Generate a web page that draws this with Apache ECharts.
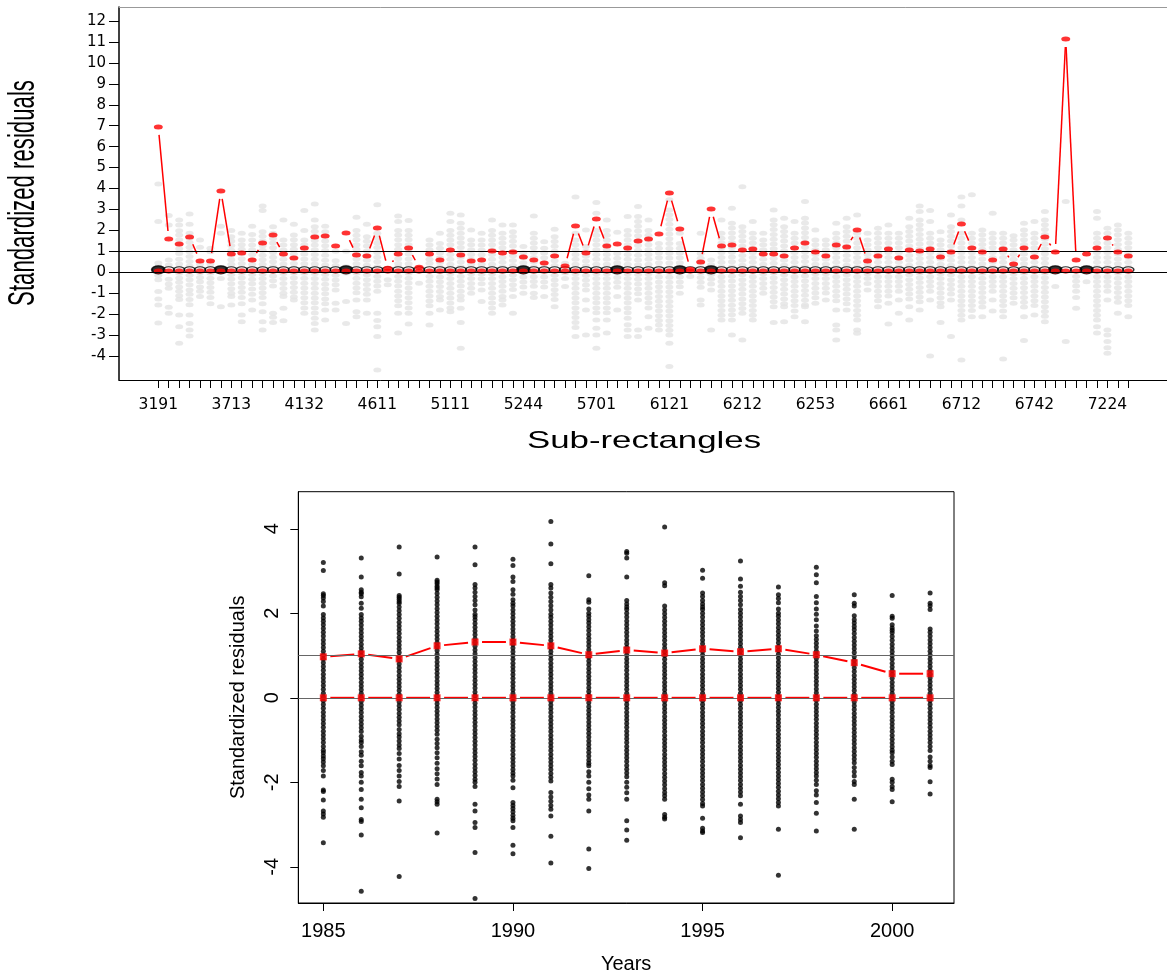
<!DOCTYPE html>
<html><head><meta charset="utf-8">
<script src="https://cdn.jsdelivr.net/npm/echarts@6/dist/echarts.min.js"></script>
<style>html,body{margin:0;padding:0;background:#fff}#c{width:1167px;height:975px}</style>
</head><body><div id="c"></div>
<script>
// ---------- top panel data ----------
const subRectLabels = ['3191','3713','4132','4611','5111','5244','5701','6121','6212','6253','6661','6712','6742','7224'];
const labelStep = 7;
const nSubRects = 94;
const topYTicks = [-4,-3,-2,-1,0,1,2,3,4,5,6,7,8,9,10,11,12];
const upperRed = [6.94,1.59,1.35,1.69,0.54,0.54,3.88,0.87,0.92,0.59,1.40,1.78,0.87,0.68,1.16,1.69,1.73,1.26,1.88,0.83,
  0.78,2.12,0.19,0.87,1.16,0.24,0.87,0.59,1.06,0.83,0.54,0.59,1.02,0.92,0.97,0.73,0.59,0.44,0.78,0.30,
  2.21,0.92,2.55,1.26,1.35,1.16,1.49,1.59,1.83,3.79,2.07,0.14,0.49,3.02,1.26,1.30,1.06,1.11,0.87,0.87,
  0.78,1.16,1.40,0.97,0.78,1.30,1.21,2.02,0.54,0.78,1.11,0.68,1.06,1.02,1.11,0.73,0.97,2.31,1.16,0.97,
  0.59,1.11,0.40,1.16,0.73,1.69,0.97,11.14,0.59,0.87,1.16,1.64,0.97,0.78];
const zeroRed = [0.06,0.06,0.06,0.06,0.06,0.06,0.06,0.06,0.06,0.06,0.06,0.06,0.06,0.06,0.06,0.06,0.06,0.06,0.06,0.06,
  0.06,0.06,0.06,0.06,0.06,0.06,0.06,0.06,0.06,0.06,0.06,0.06,0.06,0.06,0.06,0.06,0.06,0.06,0.06,0.06,
  0.06,0.06,0.06,0.06,0.06,0.06,0.06,0.06,0.06,0.06,0.06,0.06,0.06,0.06,0.06,0.06,0.06,0.06,0.06,0.06,
  0.06,0.06,0.06,0.06,0.06,0.06,0.06,0.06,0.06,0.06,0.06,0.06,0.06,0.06,0.06,0.06,0.06,0.06,0.06,0.06,
  0.06,0.06,0.06,0.06,0.06,0.06,0.06,0.06,0.06,0.06,0.06,0.06,0.06,0.06];
const meanCircle = [0.12,0.12,0.12,0.12,0.12,0.12,0.12,0.12,0.12,0.12,0.12,0.12,0.12,0.12,0.12,0.12,0.12,0.12,0.12,0.12,
  0.12,0.12,0.12,0.12,0.12,0.12,0.12,0.12,0.12,0.12,0.12,0.12,0.12,0.12,0.12,0.12,0.12,0.12,0.12,0.12,
  0.12,0.12,0.12,0.12,0.12,0.12,0.12,0.12,0.12,0.12,0.12,0.12,0.12,0.12,0.12,0.12,0.12,0.12,0.12,0.12,
  0.12,0.12,0.12,0.12,0.12,0.12,0.12,0.12,0.12,0.12,0.12,0.12,0.12,0.12,0.12,0.12,0.12,0.12,0.12,0.12,
  0.12,0.12,0.12,0.12,0.12,0.12,0.12,0.12,0.12,0.12,0.12,0.12,0.12,0.12];
const boldCircleIdx = [0,6,18,35,44,50,53,86,89];
const grayCols = [
 [4.22,2.42,0.45,0.25,-0.15,-0.35,-0.92,-1.27,-1.56,-2.42],
 [2.71,2.26,0.59,0.35,-0.33,-0.56,-0.76,-1.67,-1.96],
 [2.5,2.26,1.98,1.78,1.55,1.33,1.12,0.9,0.62,0.4,0.18,-0.05,-0.27,-0.48,-0.7,-0.9,-1.12,-1.3,-2.04,-2.6,-3.39],
 [2.79,2.3,1.86,1.63,1.42,1.2,0.98,0.75,0.52,0.3,0.1,-0.14,-0.36,-0.6,-0.84,-1.05,-1.3,-1.55,-2.04,-2.44,-2.75,-3.04],
 [1.54,1.2,0.4,0.2,-0.02,-0.25,-0.45,-0.7,-0.9,-1.16],
 [1.15,0.98,0.4,0.18,-0.05,-0.28,-0.5,-0.72,-0.95,-1.2,-1.5],
 [2.2,1.86,-0.3,-1.64],
 [2.0,1.7,1.5,1.28,1.05,0.82,0.6,0.38,0.15,-0.1,-0.32,-0.55,-0.78,-1.0,-1.16,-1.56],
 [1.86,1.54,1.32,1.1,0.88,0.65,0.42,0.2,-0.04,-0.26,-0.5,-0.73,-0.95,-1.2,-1.5,-2.04,-2.36],
 [2.2,1.8,1.54,1.3,1.08,0.85,0.6,0.38,0.15,-0.1,-0.33,-0.55,-0.8,-1.05,-1.32,-1.8],
 [3.17,2.95,1.94,1.72,1.5,1.27,1.05,0.82,0.6,0.38,0.15,-0.08,-0.3,-0.52,-0.75,-0.98,-1.2,-1.5,-1.88,-2.36,-2.75],
 [2.18,1.86,1.62,1.4,1.17,0.95,0.72,0.5,0.28,0.05,-0.18,-0.4,-0.65,-1.96,-2.15,-2.4],
 [2.5,1.54,1.3,1.07,0.85,0.62,0.4,0.17,-0.06,-0.3,-0.53,-0.77,-1.0,-1.16,-1.72,-2.31],
 [2.3,1.78,1.55,1.32,1.1,0.87,0.65,0.42,0.2,-0.03,-0.26,-0.5,-0.72,-0.95,-1.18,-1.32],
 [2.95,2.0,1.54,1.32,1.1,0.87,0.64,0.41,0.18,-0.05,-0.28,-0.52,-0.75,-0.98,-1.22,-1.45,-1.7,-1.96],
 [3.26,2.5,2.18,1.96,1.74,1.52,1.3,1.08,0.85,0.62,0.4,0.17,-0.06,-0.3,-0.53,-0.76,-1.0,-1.23,-1.46,-1.7,-1.94,-2.2,-2.45,-2.75],
 [2.2,1.94,1.72,1.5,1.27,1.04,0.81,0.58,0.35,0.12,-0.1,-0.33,-0.57,-0.8,-1.03,-1.27,-1.5,-1.8,-2.28],
 [1.0,0.55,0.32,0.1,-0.14,-0.37,-0.6,-0.84,-1.48,-1.8],
 [1.0,0.27,-0.03,-1.4,-2.44],
 [2.63,2.0,1.77,1.55,1.32,1.1,0.87,0.64,0.41,0.18,-0.05,-0.28,-0.52,-0.75,-0.98,-1.32,-1.88,-2.12],
 [2.3,1.7,1.48,1.25,1.02,0.8,0.57,0.34,0.11,-0.12,-0.35,-0.58,-0.82,-1.05,-1.32,-1.96],
 [3.22,1.86,1.63,1.4,1.18,0.95,0.72,0.5,0.27,0.04,-0.2,-0.43,-0.66,-0.9,-1.96,-2.3,-2.6,-3.07,-4.67],
 [-0.35,-0.6],
 [2.69,2.42,2.0,1.78,1.55,1.32,1.1,0.87,0.65,0.42,0.27,-0.2,-0.43,-0.66,-0.9,-1.13,-1.36,-1.6,-1.96,-2.9],
 [2.47,2.0,1.77,1.55,1.32,1.1,0.87,0.64,0.41,0.18,-0.05,-0.28,-0.51,-0.75,-0.98,-1.21,-1.45,-1.7,-1.96,-2.47],
 [-0.52],
 [1.54,1.3,1.08,0.85,0.62,0.43,-0.2,-0.43,-0.67,-0.9,-1.13,-1.37,-1.6,-1.96,-2.52],
 [1.86,1.38,1.15,0.92,0.7,0.47,0.24,0.01,-0.22,-0.45,-0.68,-0.92,-1.15,-1.32,-1.8],
 [2.82,2.42,2.0,1.77,1.54,1.31,1.08,0.85,0.62,0.39,0.16,-0.07,-0.3,-0.53,-0.76,-1.0,-1.23,-1.47,-1.7,-1.88],
 [2.74,2.34,2.1,1.87,1.64,1.41,1.18,0.95,0.72,0.49,0.26,0.03,-0.2,-0.43,-0.66,-0.9,-1.13,-1.32,-1.72,-2.4,-3.63],
 [2.02,1.54,1.31,1.08,0.85,0.62,0.39,0.16,-0.07,-0.3,-0.53,-0.76,-1.0],
 [1.86,1.54,1.3,1.07,0.84,0.61,0.38,0.15,-0.08,-0.31,-0.55,-0.84,-1.4],
 [2.5,2.0,1.77,1.54,1.31,1.08,0.85,0.62,0.39,0.16,-0.07,-0.3,-0.53,-0.76,-1.0,-1.23,-1.47,-1.7,-1.96],
 [2.26,1.86,1.63,1.4,1.17,0.94,0.71,0.48,0.25,0.02,-0.21,-0.44,-0.67,-0.9,-1.16,-1.32,-1.56],
 [2.26,1.94,1.71,1.48,1.25,1.02,0.79,0.56,0.33,0.1,-0.13,-0.36,-0.59,-0.82,-1.16,-1.96],
 [1.23,0.92,0.69,0.46,0.23,0.0,-0.23,-0.46,-0.7,-1.0],
 [2.69,1.86,1.63,1.4,1.17,0.94,0.71,0.48,0.25,0.02,-0.21,-0.44,-0.67,-1.0,-1.2],
 [1.46,1.15,0.92,0.69,0.46,0.23,0.0,-0.23,-0.46,-0.7,-1.16],
 [2.05,1.7,1.47,1.24,1.01,0.78,0.55,0.32,0.09,-0.14,-0.37,-0.6,-0.83,-1.06,-1.3,-1.64],
 [0.43,0.2,-0.03,-0.3,-0.68],
 [3.6,1.86,1.54,1.31,1.08,0.85,0.62,0.39,0.16,-0.07,-0.3,-0.53,-0.76,-1.0,-1.23,-1.46,-1.7,-1.93,-2.16,-2.4,-2.63,-3.07],
 [2.02,1.23,1.0,0.77,0.54,0.31,0.08,-0.15,-0.38,-0.61,-0.84,-1.32,-1.8,-3.0],
 [3.33,2.82,2.0,1.77,1.54,1.31,1.08,0.85,0.62,0.39,0.16,-0.07,-0.3,-0.53,-0.76,-1.0,-1.23,-1.46,-1.7,-1.93,-2.28,-2.67,-3.0,-3.63],
 [2.5,2.0,1.77,1.54,1.31,1.08,0.85,0.62,0.39,0.16,-0.07,-0.3,-0.53,-0.76,-1.0,-1.23,-1.46,-1.7,-1.93,-2.28,-2.9],
 [1.91,0.9,0.67,0.44,0.21,-0.02,-0.25,-0.48,-0.71,-1.16,-1.8],
 [2.66,2.0,1.77,1.54,1.31,1.08,0.85,0.62,0.39,0.16,-0.07,-0.3,-0.53,-0.76,-1.0,-1.23,-1.46,-1.7,-1.93,-2.2,-2.5,-2.75,-3.07],
 [3.14,2.66,2.43,2.2,1.97,1.74,1.51,1.28,1.05,0.82,0.59,0.36,0.13,-0.1,-0.33,-0.56,-0.8,-1.03,-1.32,-2.75,-3.07],
 [2.5,2.0,1.77,1.54,1.31,1.08,0.85,0.62,0.39,0.16,-0.07,-0.3,-0.53,-0.76,-1.0,-1.23,-1.46,-1.7,-2.12,-2.67],
 [1.38,1.15,0.92,0.69,0.46,0.23,0.0,-0.23,-0.46,-0.69,-0.92,-1.15,-1.38,-1.61,-1.84,-2.07,-2.3,-2.52,-2.75],
 [3.46,2.98,2.75,2.52,2.29,2.06,1.83,1.6,1.37,1.14,0.91,0.68,0.45,0.22,-0.01,-0.24,-0.47,-0.7,-0.93,-1.16,-1.39,-1.62,-1.85,-2.08,-2.31,-2.54,-2.77,-3.0,-3.39,-4.5],
 [1.86,1.38,1.15,0.92,0.69,0.46,0.23,0.0,-0.23,-0.46,-0.69,-1.0],
 [-0.2],
 [1.86,0.9,0.67,0.44,0.21,-0.02,-0.25,-0.48,-0.71,-1.32,-1.56],
 [0.59,0.36,0.13,-0.1,-0.33,-0.56,-0.84,-2.75],
 [2.5,1.86,1.63,1.4,1.17,0.94,0.71,0.48,0.25,0.02,-0.21,-0.44,-0.67,-0.9,-1.13,-1.36,-1.59,-1.82,-2.05,-2.28],
 [3.06,2.34,2.11,1.88,1.65,1.42,1.19,0.96,0.73,0.5,0.27,0.04,-0.19,-0.42,-0.65,-0.88,-1.11,-1.34,-1.57,-1.8,-2.03,-2.28,-3.0],
 [4.09,2.18,1.95,1.72,1.49,1.26,1.03,0.8,0.57,0.34,0.11,-0.12,-0.35,-0.58,-0.81,-1.04,-1.27,-1.5,-1.73,-1.96,-3.23],
 [2.42,1.86,1.63,1.4,1.17,0.94,0.71,0.48,0.25,0.02,-0.21,-0.44,-0.67,-0.9,-1.13,-1.36,-1.59,-1.82,-2.05,-2.28],
 [1.86,1.54,1.31,1.08,0.85,0.62,0.39,0.16,-0.07,-0.3,-0.53,-0.76,-1.0],
 [2.98,2.5,2.27,2.04,1.81,1.58,1.35,1.12,0.89,0.66,0.43,0.2,-0.03,-0.26,-0.49,-0.72,-0.95,-1.18,-1.41,-1.64,-2.4],
 [2.58,2.18,1.95,1.72,1.49,1.26,1.03,0.8,0.57,0.34,0.11,-0.12,-0.35,-0.58,-0.81,-1.04,-1.27,-1.5,-1.64,-2.36],
 [2.42,1.86,1.63,1.4,1.17,0.94,0.71,0.48,0.25,0.02,-0.21,-0.44,-0.67,-0.9,-1.13,-1.36,-1.59,-1.85,-2.12],
 [3.38,2.58,2.35,2.12,1.89,1.66,1.43,1.2,0.97,0.74,0.51,0.28,0.05,-0.18,-0.41,-0.64,-0.87,-1.1,-1.33,-1.56,-1.64,-2.36],
 [2.02,1.54,1.31,1.08,0.85,0.62,0.39,0.16,-0.07,-0.3,-0.53,-0.76,-0.99,-1.22,-1.48],
 [1.54,1.31,1.08,0.85,0.62,0.39,0.16,-0.07,-0.3,-0.53,-0.76,-0.99,-1.32],
 [2.34,1.86,1.63,1.4,1.17,0.94,0.71,0.48,0.25,0.02,-0.21,-0.44,-0.67,-0.9,-1.13,-1.36,-1.8,-2.52,-2.75,-3.23],
 [2.58,2.18,1.95,1.72,1.49,1.26,1.03,0.8,0.57,0.34,0.11,-0.12,-0.35,-0.58,-0.81,-1.04,-1.27,-1.5,-1.8],
 [2.74,1.86,1.63,1.4,1.17,0.94,0.71,0.48,0.25,0.02,-0.21,-0.44,-0.67,-0.9,-1.13,-1.36,-1.59,-1.82,-2.05,-2.28,-2.75,-2.91],
 [1.86,1.54,1.31,1.08,0.85,0.62,0.39,0.16,-0.07,-0.3,-0.53,-0.84],
 [2.1,1.86,1.63,1.4,1.17,0.94,0.71,0.48,0.25,0.02,-0.21,-0.44,-0.67,-0.9,-1.13,-1.36,-1.64],
 [2.26,1.86,1.63,1.4,1.17,0.94,0.71,0.48,0.25,0.02,-0.21,-0.44,-0.67,-0.9,-1.13,-1.48,-2.47],
 [1.86,1.63,1.4,1.17,0.94,0.71,0.48,0.25,0.02,-0.21,-0.44,-0.67,-0.9,-1.32,-1.96],
 [2.58,2.18,1.95,1.72,1.49,1.26,1.03,0.8,0.57,0.34,0.11,-0.12,-0.35,-0.58,-0.81,-1.04,-1.27,-1.64,-2.28],
 [3.17,2.9,2.5,2.27,2.04,1.81,1.58,1.35,1.12,0.89,0.66,0.43,0.2,-0.03,-0.26,-0.49,-0.72,-0.95,-1.18,-1.41,-1.8],
 [2.95,2.42,1.86,1.63,1.4,1.17,0.94,0.71,0.48,0.25,0.02,-0.21,-0.44,-0.67,-0.9,-1.32,-4.0],
 [1.94,1.54,1.31,1.08,0.85,0.62,0.39,0.16,-0.07,-0.3,-0.53,-0.76,-0.99,-1.22,-1.45,-1.64,-2.4],
 [2.74,2.18,1.95,1.72,1.49,1.26,1.03,0.8,0.57,0.34,0.11,-0.12,-0.35,-0.58,-0.81,-1.04,-1.32,-3.07],
 [3.6,3.17,2.5,1.86,1.63,1.4,1.17,0.94,0.71,0.48,0.25,0.02,-0.21,-0.44,-0.67,-0.9,-1.13,-1.36,-1.59,-1.82,-2.05,-2.28,-4.19],
 [3.7,1.86,1.63,1.4,1.17,0.94,0.71,0.48,0.25,0.02,-0.21,-0.44,-0.67,-0.9,-1.13,-1.36,-1.59,-1.82,-2.12],
 [2.02,1.79,1.56,1.33,1.1,0.87,0.64,0.41,0.18,-0.05,-0.28,-0.51,-0.74,-0.97,-1.2,-1.43,-1.66,-2.12],
 [2.82,1.86,1.63,1.4,1.17,0.94,0.71,0.48,0.25,0.02,-0.21,-0.44,-0.67,-0.9,-1.32,-1.85],
 [1.86,1.63,1.4,1.17,0.94,0.71,0.48,0.25,0.02,-0.21,-0.44,-0.67,-0.9,-1.13,-1.36,-1.59,-1.85,-2.12,-4.14],
 [1.74,1.54,1.31,1.08,0.85,0.62,0.39,0.16,-0.07,-0.3,-0.53,-0.76,-0.99,-1.22,-1.48],
 [2.34,2.02,1.79,1.56,1.33,1.1,0.87,0.64,0.41,0.18,-0.05,-0.28,-0.51,-0.74,-0.97,-1.2,-1.43,-1.66,-2.12,-3.26],
 [2.42,1.86,1.63,1.4,1.17,0.94,0.71,0.48,0.25,0.02,-0.21,-0.44,-0.67,-0.9,-1.13,-1.36,-1.59,-2.04],
 [2.9,2.5,2.27,2.04,1.81,1.58,1.35,1.12,0.89,0.66,0.43,0.2,-0.03,-0.26,-0.49,-0.72,-0.95,-1.18,-1.41,-1.64,-1.87,-2.1,-2.36],
 [-0.68],
 [3.38,-3.31],
 [-0.2,-0.43,-0.66,-0.9,-1.2,-1.72],
 [-0.45],
 [2.9,2.58,1.86,1.63,1.4,1.17,0.94,0.71,0.48,0.25,0.02,-0.21,-0.44,-0.67,-0.9,-1.13,-1.36,-1.59,-1.82,-2.05,-2.28,-2.6,-2.9],
 [2.1,1.86,1.63,1.4,1.17,0.94,0.71,0.48,0.25,0.02,-0.21,-0.44,-0.67,-0.9,-1.32,-2.75,-3.0,-3.3,-3.6,-3.87],
 [2.26,2.02,1.79,1.56,1.33,1.1,0.87,0.64,0.41,0.18,-0.05,-0.28,-0.51,-0.74,-0.97,-1.2,-1.43,-1.96],
 [1.86,1.63,1.4,1.17,0.94,0.71,0.48,0.25,0.02,-0.21,-0.44,-0.67,-0.9,-1.13,-1.36,-1.59,-2.12]
];

// ---------- bottom panel data ----------
const years = [1985,1986,1987,1988,1989,1990,1991,1992,1993,1994,1995,1996,1997,1998,1999,2000,2001];
const yearUpper = [0.97,1.04,0.92,1.23,1.32,1.32,1.23,1.02,1.13,1.06,1.16,1.09,1.16,1.02,0.83,0.57,0.57];
const yearZero = [0,0,0,0,0,0,0,0,0,0,0,0,0,0,0,0,0];
const botXTicks = [1985,1990,1995,2000];
const botYTicks = [-4,-2,0,2,4];
const yearDots = [
 [3.2,3.01,2.46,2.42,2.36,2.28,2.17,1.97,1.89,1.81,1.73,1.64,1.55,1.46,1.37,1.28,1.19,1.1,1.01,0.92,0.83,0.74,0.65,0.56,0.47,0.38,0.29,0.2,0.11,0.02,-0.07,-0.16,-0.25,-0.34,-0.43,-0.52,-0.61,-0.7,-0.79,-0.88,-0.97,-1.06,-1.15,-1.24,-1.3,-1.38,-1.44,-1.52,-1.61,-1.72,-1.85,-2.18,-2.22,-2.42,-2.68,-2.75,-2.83,-3.43],
 [3.31,2.86,2.56,2.5,2.46,2.39,2.24,2.12,1.97,1.89,1.81,1.72,1.63,1.54,1.45,1.36,1.27,1.18,1.09,1.0,0.91,0.82,0.73,0.64,0.55,0.46,0.37,0.28,0.19,0.1,0.01,-0.08,-0.17,-0.26,-0.35,-0.44,-0.53,-0.62,-0.71,-0.8,-0.91,-1.0,-1.06,-1.15,-1.28,-1.36,-1.5,-1.61,-1.77,-1.85,-2.0,-2.17,-2.4,-2.6,-2.88,-2.93,-3.25,-4.58],
 [3.57,2.93,2.42,2.38,2.33,2.28,2.24,2.15,2.06,1.97,1.88,1.79,1.7,1.61,1.52,1.43,1.34,1.25,1.16,1.07,0.98,0.89,0.8,0.71,0.62,0.53,0.44,0.35,0.26,0.17,0.08,-0.01,-0.1,-0.19,-0.28,-0.37,-0.46,-0.55,-0.64,-0.75,-0.85,-0.93,-1.02,-1.12,-1.2,-1.32,-1.45,-1.6,-1.72,-1.85,-1.98,-2.1,-2.44,-4.23],
 [3.33,2.78,2.74,2.7,2.64,2.6,2.56,2.47,2.38,2.29,2.2,2.11,2.02,1.93,1.84,1.75,1.66,1.57,1.48,1.39,1.3,1.21,1.12,1.03,0.94,0.85,0.76,0.67,0.58,0.49,0.4,0.31,0.22,0.13,0.04,-0.05,-0.14,-0.23,-0.32,-0.41,-0.5,-0.59,-0.68,-0.77,-0.86,-0.98,-1.08,-1.18,-1.3,-1.42,-1.55,-1.68,-1.8,-1.92,-2.05,-2.4,-2.46,-2.52,-3.2],
 [3.57,3.15,2.68,2.6,2.5,2.4,2.3,2.2,2.08,1.98,1.92,1.85,1.76,1.67,1.58,1.49,1.4,1.31,1.22,1.13,1.04,0.95,0.86,0.77,0.68,0.59,0.5,0.41,0.32,0.23,0.14,0.05,-0.04,-0.13,-0.22,-0.31,-0.4,-0.49,-0.58,-0.67,-0.76,-0.85,-0.94,-1.03,-1.12,-1.21,-1.3,-1.39,-1.48,-1.57,-1.66,-1.75,-1.84,-1.93,-2.0,-2.1,-2.52,-2.68,-2.95,-3.07,-3.66,-4.75],
 [3.28,3.13,2.86,2.75,2.56,2.45,2.32,2.24,2.17,2.08,1.99,1.9,1.81,1.72,1.63,1.54,1.45,1.36,1.27,1.18,1.09,1.0,0.91,0.82,0.73,0.64,0.55,0.46,0.37,0.28,0.19,0.1,0.01,-0.08,-0.17,-0.26,-0.35,-0.44,-0.53,-0.62,-0.71,-0.8,-0.89,-0.98,-1.07,-1.16,-1.25,-1.34,-1.43,-1.52,-1.61,-1.7,-1.78,-1.85,-1.95,-2.13,-2.48,-2.55,-2.62,-2.7,-2.78,-2.85,-2.91,-3.07,-3.49,-3.69],
 [4.17,3.64,3.17,2.68,2.6,2.48,2.38,2.28,2.18,2.08,1.98,1.9,1.81,1.72,1.63,1.54,1.45,1.36,1.27,1.18,1.09,1.0,0.91,0.82,0.73,0.64,0.55,0.46,0.37,0.28,0.19,0.1,0.01,-0.08,-0.17,-0.26,-0.35,-0.44,-0.53,-0.62,-0.71,-0.8,-0.89,-0.98,-1.07,-1.16,-1.25,-1.34,-1.43,-1.52,-1.61,-1.7,-1.79,-1.88,-1.97,-2.24,-2.35,-2.45,-2.55,-2.64,-2.8,-3.28,-3.91],
 [2.89,2.32,2.26,2.1,2.0,1.93,1.85,1.77,1.68,1.59,1.5,1.41,1.32,1.23,1.14,1.05,0.96,0.87,0.78,0.69,0.6,0.51,0.42,0.33,0.24,0.15,0.06,-0.03,-0.12,-0.21,-0.3,-0.39,-0.48,-0.57,-0.66,-0.75,-0.84,-0.93,-1.02,-1.11,-1.2,-1.29,-1.38,-1.47,-1.55,-1.61,-1.75,-1.85,-2.0,-2.15,-2.3,-2.4,-2.68,-3.58,-4.04],
 [3.46,3.42,3.31,2.86,2.3,2.22,2.15,2.09,2.0,1.91,1.82,1.73,1.64,1.55,1.46,1.37,1.28,1.19,1.1,1.01,0.92,0.83,0.74,0.65,0.56,0.47,0.38,0.29,0.2,0.11,0.02,-0.07,-0.16,-0.25,-0.34,-0.43,-0.52,-0.61,-0.7,-0.79,-0.88,-0.97,-1.06,-1.15,-1.24,-1.33,-1.42,-1.51,-1.6,-1.69,-1.78,-1.87,-2.0,-2.12,-2.25,-2.4,-2.91,-3.13,-3.37],
 [4.04,2.72,2.65,2.17,2.08,1.99,1.9,1.81,1.72,1.63,1.54,1.45,1.36,1.27,1.18,1.09,1.0,0.91,0.82,0.73,0.64,0.55,0.46,0.37,0.28,0.19,0.1,0.01,-0.08,-0.17,-0.26,-0.35,-0.44,-0.53,-0.62,-0.71,-0.8,-0.89,-0.98,-1.07,-1.16,-1.25,-1.34,-1.43,-1.52,-1.61,-1.7,-1.79,-1.88,-1.97,-2.06,-2.15,-2.24,-2.32,-2.4,-2.76,-2.83,-2.87],
 [3.02,2.83,2.48,2.4,2.3,2.22,2.15,2.09,2.0,1.91,1.82,1.73,1.64,1.55,1.46,1.37,1.28,1.19,1.1,1.01,0.92,0.83,0.74,0.65,0.56,0.47,0.38,0.29,0.2,0.11,0.02,-0.07,-0.16,-0.25,-0.34,-0.43,-0.52,-0.61,-0.7,-0.79,-0.88,-0.97,-1.06,-1.15,-1.24,-1.33,-1.42,-1.51,-1.6,-1.69,-1.78,-1.87,-1.96,-2.05,-2.14,-2.23,-2.32,-2.41,-2.5,-2.56,-2.85,-3.09,-3.15,-3.19],
 [3.24,2.81,2.64,2.5,2.4,2.3,2.2,2.09,2.0,1.91,1.82,1.73,1.64,1.55,1.46,1.37,1.28,1.19,1.1,1.01,0.92,0.83,0.74,0.65,0.56,0.47,0.38,0.29,0.2,0.11,0.02,-0.07,-0.16,-0.25,-0.34,-0.43,-0.52,-0.61,-0.7,-0.79,-0.88,-0.97,-1.06,-1.15,-1.24,-1.33,-1.42,-1.51,-1.6,-1.69,-1.78,-1.87,-1.96,-2.05,-2.14,-2.23,-2.32,-2.52,-2.8,-2.88,-2.95,-3.31],
 [2.62,2.44,2.35,2.25,2.1,2.0,1.93,1.84,1.75,1.66,1.57,1.48,1.39,1.3,1.21,1.12,1.03,0.94,0.85,0.76,0.67,0.58,0.49,0.4,0.31,0.22,0.13,0.04,-0.05,-0.14,-0.23,-0.32,-0.41,-0.5,-0.59,-0.68,-0.77,-0.86,-0.95,-1.04,-1.13,-1.22,-1.31,-1.4,-1.49,-1.58,-1.67,-1.76,-1.85,-1.94,-2.03,-2.12,-2.21,-2.3,-2.39,-2.48,-2.56,-3.11,-4.2],
 [3.09,2.91,2.72,2.4,2.25,2.1,1.98,1.85,1.7,1.58,1.47,1.38,1.29,1.2,1.11,1.02,0.93,0.84,0.75,0.66,0.57,0.48,0.39,0.3,0.21,0.12,0.03,-0.06,-0.15,-0.24,-0.33,-0.42,-0.51,-0.6,-0.69,-0.78,-0.87,-0.96,-1.05,-1.14,-1.23,-1.32,-1.41,-1.5,-1.59,-1.68,-1.77,-1.85,-1.95,-2.05,-2.2,-2.3,-2.48,-2.73,-3.15],
 [2.44,2.24,2.17,1.94,1.85,1.77,1.69,1.61,1.52,1.43,1.34,1.25,1.16,1.07,0.98,0.89,0.8,0.71,0.62,0.53,0.44,0.35,0.26,0.17,0.08,-0.01,-0.1,-0.19,-0.28,-0.37,-0.46,-0.55,-0.64,-0.73,-0.82,-0.91,-1.0,-1.09,-1.18,-1.27,-1.36,-1.45,-1.54,-1.65,-1.75,-1.85,-1.98,-2.05,-2.4,-3.11],
 [2.42,1.93,1.88,1.73,1.65,1.6,1.54,1.45,1.36,1.27,1.18,1.09,1.0,0.91,0.82,0.73,0.64,0.55,0.46,0.37,0.28,0.19,0.1,0.01,-0.08,-0.17,-0.26,-0.35,-0.44,-0.53,-0.62,-0.71,-0.8,-0.89,-0.98,-1.07,-1.16,-1.24,-1.3,-1.4,-1.5,-1.58,-1.93,-2.0,-2.1,-2.17,-2.46],
 [2.48,2.24,2.18,2.09,1.63,1.55,1.46,1.37,1.28,1.19,1.1,1.01,0.92,0.83,0.74,0.65,0.56,0.47,0.38,0.29,0.2,0.11,0.02,-0.07,-0.16,-0.25,-0.34,-0.43,-0.52,-0.61,-0.7,-0.79,-0.88,-0.97,-1.06,-1.15,-1.25,-1.4,-1.5,-1.6,-1.65,-1.99,-2.28]
];

// ---------- build ----------
const grayData = [];
grayCols.forEach((col, i) => col.forEach(v => grayData.push([i, v])));
const circleData = meanCircle.map((v, i) => boldCircleIdx.indexOf(i) >= 0
  ? { value: [i, v], symbolSize: [13, 8], itemStyle: { color: '#000', borderWidth: 1.5 } }
  : { value: [i, v] });
const segData = upperRed.slice(0, -1).map((v, i) => [i, v, i + 1, upperRed[i + 1]]);
const yearSegUpper = yearUpper.slice(0, -1).map((v, i) => [years[i], v, years[i + 1], yearUpper[i + 1]]);
const yearSegZero = yearZero.slice(0, -1).map((v, i) => [years[i], v, years[i + 1], yearZero[i + 1]]);
const dotData = [];
yearDots.forEach((col, j) => col.forEach(v => dotData.push([years[j], v])));
const subTickIdx = [];
for (let i = 0; i < nSubRects; i++) subTickIdx.push(i);
const subLabelIdx = subRectLabels.map((_, k) => k * labelStep);

const RED = '#ff0000';
const SANS = "'Liberation Sans', Arial, sans-serif";
const WIDE = "'DejaVu Sans', sans-serif";

// R type="b": segments between points, shortened near each point
function gapSegments(gap, width) {
  return function (params, api) {
    const p1 = api.coord([api.value(0), api.value(1)]);
    const p2 = api.coord([api.value(2), api.value(3)]);
    const dx = p2[0] - p1[0], dy = p2[1] - p1[1];
    const len = Math.sqrt(dx * dx + dy * dy);
    if (len <= 2 * gap + 1) return { type: 'group', children: [] };
    const ux = dx / len, uy = dy / len;
    return { type: 'line', shape: { x1: p1[0] + ux * gap, y1: p1[1] + uy * gap, x2: p2[0] - ux * gap, y2: p2[1] - uy * gap },
      style: { stroke: RED, lineWidth: width } };
  };
}

const chart = echarts.init(document.getElementById('c'), null, { renderer: 'canvas' });
chart.setOption({
  animation: false,
  backgroundColor: '#fff',
  grid: [
    { left: 119, top: 7, right: 0, bottom: 595 },
    { left: 298.3, top: 491.7, right: 213, bottom: 71, show: true, borderColor: '#000', borderWidth: 1, backgroundColor: 'transparent' }
  ],
  xAxis: [
    { type: 'value', gridIndex: 0, min: -3.768, max: 96.71, splitLine: { show: false },
      axisLine: { show: true, onZero: false, lineStyle: { color: '#000', width: 1 } },
      axisTick: { show: true, inside: false, length: 8, customValues: subTickIdx, lineStyle: { color: '#000', width: 1 } },
      axisLabel: { show: true, customValues: subLabelIdx, margin: 17, fontFamily: WIDE, fontSize: 15.5, color: '#000',
        formatter: v => subRectLabels[Math.round(v / labelStep)] } },
    { type: 'value', gridIndex: 0, position: 'top', min: -3.768, max: 96.71, splitLine: { show: false },
      axisLine: { show: true, onZero: false, lineStyle: { color: '#999', width: 1 } },
      axisTick: { show: false }, axisLabel: { show: false } },
    { type: 'value', gridIndex: 1, min: 1984.34, max: 2001.63, splitLine: { show: false },
      axisLine: { show: true, onZero: false, lineStyle: { color: '#000', width: 1 } },
      axisTick: { show: true, length: 8, customValues: botXTicks, lineStyle: { color: '#000' } },
      axisLabel: { customValues: botXTicks, margin: 18, fontFamily: SANS, fontSize: 20, color: '#000', formatter: v => String(v) },
      name: 'Years', nameLocation: 'middle', nameGap: 51,
      nameTextStyle: { fontFamily: SANS, fontSize: 20, color: '#000' } }
  ],
  yAxis: [
    { type: 'value', gridIndex: 0, min: -5.143, max: 12.669, splitLine: { show: false },
      axisLine: { show: true, onZero: false, lineStyle: { color: '#000', width: 1.5 } },
      axisTick: { show: true, length: 10, customValues: topYTicks, lineStyle: { color: '#000' } },
      axisLabel: { customValues: topYTicks, margin: 13, fontFamily: WIDE, fontSize: 15, color: '#000' } },
    { type: 'value', gridIndex: 1, min: -4.857, max: 4.878, splitLine: { show: false },
      axisLine: { show: true, onZero: false, lineStyle: { color: '#000', width: 1 } },
      axisTick: { show: true, length: 8, customValues: botYTicks, lineStyle: { color: '#000' } },
      axisLabel: { customValues: botYTicks, rotate: 90, margin: 16, fontFamily: SANS, fontSize: 20, color: '#000' },
      name: 'Standardized residuals', nameLocation: 'middle', nameGap: 50, nameRotate: 90,
      nameTextStyle: { fontFamily: SANS, fontSize: 20, color: '#000' } }
  ],
  graphic: [
    { type: 'text', x: 24, y: 193, rotation: Math.PI / 2, scaleX: 0.6, scaleY: 1,
      style: { text: 'Standardized residuals', font: '37px ' + SANS, textAlign: 'center', textVerticalAlign: 'middle', fill: '#000' } },
    { type: 'text', x: 644, y: 441, scaleX: 1.45, scaleY: 1,
      style: { text: 'Sub-rectangles', font: '24px ' + SANS, textAlign: 'center', textVerticalAlign: 'middle', fill: '#000' } }
  ],
  series: [
    { type: 'scatter', xAxisIndex: 0, yAxisIndex: 0, data: grayData, symbol: 'circle', symbolSize: [8, 5],
      itemStyle: { color: '#e3e3e3' }, z: 1, silent: true },
    { type: 'scatter', xAxisIndex: 0, yAxisIndex: 0, data: circleData, symbol: 'circle', symbolSize: [11, 6],
      itemStyle: { color: 'transparent', borderColor: '#000', borderWidth: 1.2 }, z: 3, silent: true,
      markLine: { silent: true, symbol: 'none', label: { show: false },
        lineStyle: { color: '#000', width: 1, type: 'solid' },
        data: [{ yAxis: 0 }, { yAxis: 1 }] } },
    { type: 'scatter', xAxisIndex: 0, yAxisIndex: 0, data: zeroRed.map((v, i) => [i, v]), symbol: 'circle', symbolSize: [9, 5],
      itemStyle: { color: RED }, z: 4, silent: true },
    { type: 'custom', xAxisIndex: 0, yAxisIndex: 0, data: segData, z: 4, silent: true, renderItem: gapSegments(8, 1.5) },
    { type: 'scatter', xAxisIndex: 0, yAxisIndex: 0, data: upperRed.map((v, i) => [i, v]), symbol: 'circle', symbolSize: [9, 5],
      itemStyle: { color: RED }, z: 5, silent: true },

    { type: 'scatter', xAxisIndex: 2, yAxisIndex: 1, data: dotData, symbol: 'circle', symbolSize: 5,
      itemStyle: { color: '#000' }, z: 2, silent: true,
      markLine: { silent: true, symbol: 'none', label: { show: false },
        lineStyle: { color: '#666', width: 1, type: 'solid' },
        data: [{ yAxis: 0 }, { yAxis: 1 }] } },
    { type: 'custom', xAxisIndex: 2, yAxisIndex: 1, data: yearSegUpper, z: 4, silent: true, renderItem: gapSegments(7, 2) },
    { type: 'custom', xAxisIndex: 2, yAxisIndex: 1, data: yearSegZero, z: 4, silent: true, renderItem: gapSegments(7, 2) },
    { type: 'scatter', xAxisIndex: 2, yAxisIndex: 1, data: years.map((y, i) => [y, yearUpper[i]]), symbol: 'rect', symbolSize: 7,
      itemStyle: { color: RED }, z: 5, silent: true },
    { type: 'scatter', xAxisIndex: 2, yAxisIndex: 1, data: years.map((y, i) => [y, yearZero[i]]), symbol: 'rect', symbolSize: 7,
      itemStyle: { color: RED }, z: 5, silent: true }
  ]
});
</script></body></html>
